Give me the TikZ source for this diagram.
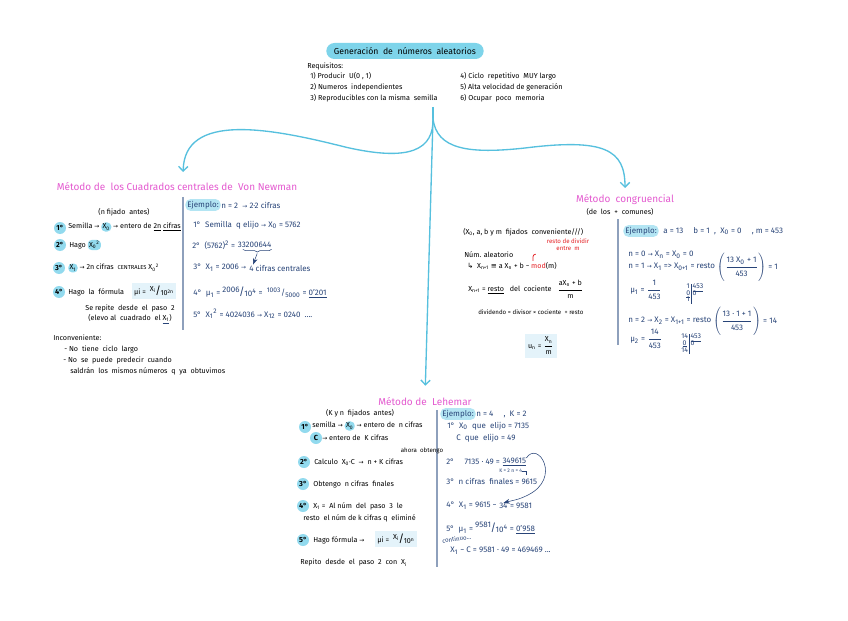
\documentclass[tikz,border=0pt]{standalone}
\usepackage{fontspec}
\setmainfont{Fira Sans}
\newfontfamily\symfont{DejaVu Sans}
\usepackage{amsmath}
\usetikzlibrary{arrows.meta, positioning, calc, decorations.pathreplacing}
\definecolor{branchcyan}{RGB}{86, 192, 222}
\definecolor{pillcyan}{RGB}{126, 212, 234}
\definecolor{dotcyan}{RGB}{146, 218, 238}
\definecolor{boxblue}{RGB}{228, 243, 250}
\definecolor{titlepink}{RGB}{228, 90, 208}
\definecolor{inkblue}{RGB}{40, 68, 120}
\definecolor{notered}{RGB}{228, 32, 36}
\definecolor{rulegrey}{RGB}{142, 160, 188}
\newcommand{\flecha}{{\symfont\fontsize{4.5}{5}\selectfont →}}
\newcommand{\symb}[1]{{\symfont #1}}
\newcommand{\hlx}[1]{\tikz[baseline=(hx.base)]\node (hx) [rectangle, rounded corners=3pt, fill=dotcyan, inner sep=1pt] {#1};}
\newcommand{\fr}[2]{\ensuremath{\dfrac{\text{#1}}{\text{#2}}}}
\newcommand{\sfr}[2]{\raisebox{2.5pt}{#1}\kern-0.3pt{\fontsize{8}{8}\selectfont/}\kern-0.3pt\raisebox{-1pt}{#2}}
\newcommand{\ldiv}[3]{{\renewcommand{\arraystretch}{0.85}\begin{tabular}{@{}c@{\,}|@{\,}l@{}}#1 & #2\\\cline{2-2}\underline{0} & 0\\ #3 & \end{tabular}}}
\tikzset{
  pill/.style    = {rectangle, rounded corners=6pt, fill=pillcyan, minimum width=118pt, minimum height=12pt, inner sep=1pt, font=\fontsize{6.5}{7}\selectfont},
  mtitle/.style  = {text=titlepink, inner sep=0pt, font=\fontsize{7.5}{8}\selectfont},
  txt/.style     = {anchor=west, inner sep=0pt, font=\fontsize{5.4}{6.5}\selectfont},
  small/.style   = {anchor=west, inner sep=0pt, font=\fontsize{4.6}{5.2}\selectfont},
  ex/.style      = {anchor=west, inner sep=0pt, text=inkblue, font=\fontsize{6}{7}\selectfont},
  exhl/.style    = {rectangle, rounded corners=4pt, fill=dotcyan!70, inner sep=1.5pt, text=inkblue, font=\fontsize{6}{7}\selectfont},
  stepdot/.style = {circle, fill=dotcyan, inner sep=0.4pt, minimum size=9pt, font=\fontsize{5.5}{6}\selectfont\bfseries},
  fbox/.style    = {rectangle, fill=boxblue, inner sep=2pt, font=\fontsize{5.4}{6.5}\selectfont},
  divis/.style   = {anchor=west, inner sep=0pt, text=inkblue, font=\fontsize{5.2}{5.6}\selectfont},
  vsep/.style    = {draw=rulegrey, line width=1pt},
  branch/.style  = {-{Straight Barb[length=3.5pt, width=7pt]}, branchcyan, line width=1pt},
}

\begin{document}
\begin{tikzpicture}[x=0.75pt, y=-0.75pt]
\fill[white] (0,0) rectangle (848,620);
\useasboundingbox (0,0) rectangle (848,620);

% ================= Cabecera =================
\node (title) [pill] at (405,51) {Generación \ de \ números \ aleatorios};
\node (req)  [txt] at (307,66) {Requisitos:};
\node (r1)   [txt] at (310,76) {1) Producir \ U(0 , 1)};
\node (r2)   [txt] at (310,87) {2) Numeros \ independientes};
\node (r3)   [txt] at (310,98) {3) Reproducibles con la misma \ semilla};
\node (r4)   [txt] at (460,76) {4) Ciclo \ repetitivo \ MUY largo};
\node (r5)   [txt] at (460,87) {5) Alta velocidad de generación};
\node (r6)   [txt] at (460,98) {6) Ocupar \ poco \ memoria};

% ================= Titulos de los metodos =================
\node (vn) [mtitle] at (177,187) {Método de \ los Cuadrados centrales de \ Von Newman};
\node (cg) [mtitle] at (625,200) {Método \ congruencial};
\node (lh) [mtitle] at (425,402) {Método de \ Lehemar};

% ================= Ramas =================
\coordinate (stem) at (433,107);
\coordinate (fork) at (433,118);
\draw [branchcyan, line width=1pt] (stem) -- (fork);
\draw [branch, shorten >=8pt] (fork) .. controls (434,150) and (410,162) .. (345,147) .. controls (270,128) and (184,112) .. ([xshift=4.5pt]vn.north);
\draw [branch, shorten >=5pt] (fork) .. controls (436,150) and (470,154) .. (525,148) .. controls (605,138) and (625,150) .. (cg.north);
\draw [branch, shorten >=9pt] (fork) -- (lh.north);

% ================= Von Newman =================
\node (vnfix) [txt, anchor=center] at (124,212) {(n fijado \ antes)};
\node (vnd1) [stepdot] at (60,228) {1°};
\node (vns1) [txt] at (68,227) {Semilla \flecha\ \hlx{X\textsubscript{0}} \flecha\ entero de \underline{2n} \underline{cifras}};
\node (vnd2) [stepdot] at (60,245) {2°};
\node (vns2) [txt] at (69,245) {Hago \hlx{X\textsubscript{0}\textsuperscript{2}}};
\node (vnd3) [stepdot] at (59,268) {3°};
\node (vns3) [txt] at (68,268) {\hlx{X\textsubscript{1}} \flecha\ 2n cifras \ {\fontsize{4.3}{5}\selectfont CENTRALES} X\textsubscript{0}\textsuperscript{2}};
\node (vnd4) [stepdot] at (59,292) {4°};
\node (vns4) [txt] at (68,292) {Hago \ la \ fórmula};
\node (vnf)  [fbox] at (154,291) {µi = \ \sfr{X\textsubscript{i}}{10\textsuperscript{2n}}};
\node (vnrep1) [txt, anchor=center] at (130,308) {Se repite \ desde \ el \ paso \ 2};
\node (vnrep2) [txt, anchor=center] at (130,319) {(elevo al \ cuadrado \ el \textcolor{inkblue}{\underline{\textcolor{black}{X\textsubscript{1}}}})};
\draw [vsep] (183,197) -- (183,330);

\node (vnej)  [exhl] at (203,205) {Ejemplo:};
\node (vnej1) [ex] at (221,205) {n = 2 \ \flecha\ 2·2 cifras};
\node (vne1)  [ex] at (193,225) {1° \ Semilla \ q elijo \flecha\ X\textsubscript{0} = 5762};
\node (vne2)  [ex] at (192,245) {2° \ (5762)\textsuperscript{2} =};
\node (vne2n) [ex, right=1.5pt of vne2] {33200644};
\draw [inkblue, decorate, decoration={brace, mirror, amplitude=2pt}] ([xshift=4pt, yshift=-1pt]vne2n.south west) -- ([yshift=-1pt]vne2n.south east) coordinate[midway] (vnbr);
\node (vne3)  [ex] at (193,268) {3° \ X\textsubscript{1} = 2006 \flecha};
\node (vne3c) [ex, right=2pt of vne3] {4 cifras centrales};
\draw [->, >=Stealth, inkblue, thin] ([yshift=-3pt]vnbr) -- ([xshift=3pt]vne3c.north west);
\node (vne4)  [ex] at (193,292) {4° \ µ\textsubscript{1} = \sfr{2006}{10\textsuperscript{4}} = \ \textsuperscript{1003}/\textsubscript{5000} = \underline{0'201}};
\node (vne5)  [ex] at (193,314) {5° \ X\textsubscript{1}\textsuperscript{2} = 4024036 \flecha\ X\textsubscript{12} = 0240 \ ....};

\node (vnin)  [txt] at (53,338) {Inconveniente:};
\node (vnin1) [txt] at (64,349) {- No \ tiene \ ciclo \ largo};
\node (vnin2) [txt] at (63,360) {- No \ se \ puede \ predecir \ cuando};
\node (vnin3) [txt] at (70,371) {saldrán \ los \ mismos números \ q \ ya \ obtuvimos};

% ================= Congruencial =================
\node (cgsub) [txt, anchor=center] at (620,212) {(de \ los \ + \ comunes)};
\draw [vsep] (618,219) -- (618,345);
\node (cg1) [txt] at (463,232) {(X\textsubscript{0}, a, b y m \ fijados \ conveniente///)};
\node (cg2) [txt] at (464,255) {Núm. aleatorio};
\node (cg3) [txt] at (467,266) {\symb{↳} \ X\textsubscript{n+1} \symb{≡} a X\textsubscript{n} + b −};
\node (cgmod)  [txt, right=1pt of cg3] {\textcolor{notered}{mod}(m)};
\node (cgnote) [small, anchor=center, text=notered, align=center] at (568,245) {resto de dividir\\entre \ m};
\draw [notered, line width=0.6pt] ([xshift=1.5pt, yshift=1pt]cgmod.north west) -- ++(0,3pt) to[out=90, in=180] ++(2pt,2pt);
\node (cg4) [txt] at (468,289) {X\textsubscript{n+1} = \underline{resto} \ \ del \ cociente \ \ \fr{aX\textsubscript{n} + b}{m}};
\node (cg5) [small] at (478,312) {dividendo = divisor × cociente \ + resto};
\node (cgf) [fbox] at (541,346) {u\textsubscript{n} = \fr{X\textsubscript{n}}{m}};

\node (cgej)  [exhl] at (641,231) {Ejemplo:};
\node (cgej1) [ex] at (663,231) {a = 13 \quad b = 1 \ , \ X\textsubscript{0} = 0 \quad , m = 453};
\node (cge1)  [ex] at (628,255) {n = 0 \flecha\ X\textsubscript{n} = X\textsubscript{0} = 0};
\node (cge2)  [ex] at (628,267) {n = 1 \flecha\ X\textsubscript{1} => X\textsubscript{0+1} = resto};
\node (cge2f) [ex, right=1pt of cge2] {$\left(\dfrac{\rule{0pt}{8pt}\text{13 X\textsubscript{0} + 1}}{\rule[-4pt]{0pt}{4pt}\text{453}}\right)$ = 1};
\node (cge3)  [ex] at (630,290) {µ\textsubscript{1} = \fr{1}{453}};
\node (cgd1)  [divis] at (686,294) {\ldiv{1}{453}{1}};
\node (cge4)  [ex] at (628,321) {n = 2 \flecha\ X\textsubscript{2} = X\textsubscript{1+1} = resto};
\node (cge4f) [ex, right=1pt of cge4] {$\left(\dfrac{\rule{0pt}{8pt}\text{13 · 1 + 1}}{\rule[-4pt]{0pt}{4pt}\text{453}}\right)$ = 14};
\node (cge5)  [ex] at (630,339) {µ\textsubscript{2} = \fr{14}{453}};
\node (cgd2)  [divis] at (681,344) {\ldiv{14}{453}{14}};

% ================= Lehemar =================
\draw [vsep] (437,410) -- (437,567);
\node (lhfix) [txt, anchor=center] at (360,413) {(K y n \ fijados \ antes)};
\node (lhd1)  [stepdot] at (305,427) {1°};
\node (lhs1)  [txt] at (312,426) {semilla \flecha\ \hlx{X\textsubscript{0}} \flecha\ entero de \ n cifras};
\node (lhdc)  [stepdot] at (316,438) {C};
\node (lhsc)  [txt] at (322,438) {\flecha\ entero de \ K cifras};
\node (lhnote)[small, anchor=center] at (422,451) {ahora \ obtengo};
\node (lhd2)  [stepdot] at (304,462) {2°};
\node (lhs2)  [txt] at (314,462) {Calculo \ X\textsubscript{0}·C \ \flecha\ \ n + K cifras};
\node (lhd3)  [stepdot] at (303,484) {3°};
\node (lhs3)  [txt] at (313,484) {Obtengo \ n cifras \ finales};
\node (lhd4)  [stepdot] at (303,506) {4°};
\node (lhs4)  [txt] at (313,506) {X\textsubscript{1} = \ Al núm \ del \ paso \ 3 \ le};
\node (lhs4b) [txt] at (303,518) {resto \ el núm de k cifras q \ eliminé};
\node (lhd5)  [stepdot] at (303,540) {5°};
\node (lhs5)  [txt] at (313,540) {Hago fórmula \flecha};
\node (lhf)   [fbox] at (396,539) {µi = \ \sfr{X\textsubscript{i}}{10\textsuperscript{n}}};
\node (lhs6)  [txt] at (300,563) {Repito \ desde \ el \ paso \ 2 \ con \ X\textsubscript{i}};

\node (lhej)  [exhl] at (458,414) {Ejemplo:};
\node (lhej1) [ex] at (476,414) {n = 4 \quad , \ K = 2};
\node (lhe1)  [ex] at (447,426) {1° \ X\textsubscript{0} \ que \ elijo = 7135};
\node (lhe2)  [ex] at (456,438) {C \ que \ elijo = 49};
\node (lhe3)  [ex] at (446,462) {2° \quad 7135 · 49 =};
\node (lhe3n) [ex, right=1.5pt of lhe3] {\underline{349615}};
\node (lhk)   [small, text=inkblue, font=\fontsize{3.8}{4}\selectfont] at (499,471) {K = 2};
\node (lhn)   [small, text=inkblue, font=\fontsize{3.8}{4}\selectfont] at (511,471) {n = 4};
\node (lhe4)  [ex] at (446,481) {3° \ n cifras \ finales = 9615};
\node (lhe5)  [ex] at (446,506) {4° \ X\textsubscript{1} = 9615 −};
\node (lhe5b) [ex, right=1.5pt of lhe5] {34};
\node (lhe5c) [ex, right=1.5pt of lhe5b] {= 9581};
\node (lhe6)  [ex] at (446,528) {5° \ µ\textsubscript{1} = \sfr{9581}{10\textsuperscript{4}} = \underline{0'958}};
\node (lhcont)[small, text=inkblue, rotate=8] at (442,541) {continuo...};
\node (lhe7)  [ex] at (450,551) {X\textsubscript{1} − C = 9581 · 49 = 469469 ...};
\draw [inkblue, thin] (lhn.east) -- ++(3pt,0) -- ++(0,-3pt);
\draw [->, >=Stealth, inkblue, thin] (lhe3n.north east) .. controls (538,440) and (562,478) .. (528,495) .. controls (518,500) and (514,500) .. (lhe5b.north);

\end{tikzpicture}
\end{document}
